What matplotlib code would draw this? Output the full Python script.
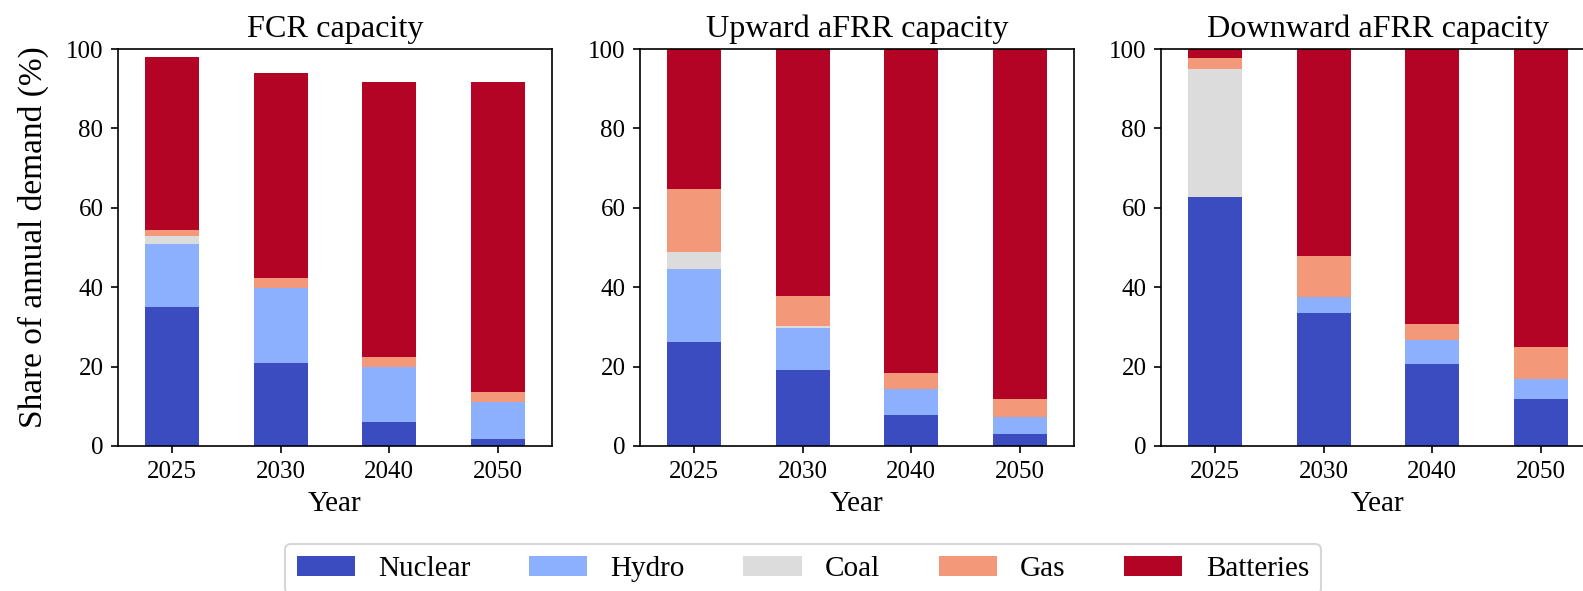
import numpy as np
import matplotlib
matplotlib.use("Agg")
import matplotlib.pyplot as plt

plt.rcParams['font.family'] = ['Liberation Serif', 'DejaVu Serif']
plt.rcParams['font.size'] = 12

years = ['2025', '2030', '2040', '2050']
techs = ['Nuclear', 'Hydro', 'Coal', 'Gas', 'Batteries']

# share of annual demand (%) per technology, one value per year
fcr = {
    'Nuclear':   [35.1, 21.0, 6.0, 1.7],
    'Hydro':     [15.9, 18.7, 13.8, 9.5],
    'Coal':      [1.8, 0.2, 0.0, 0.0],
    'Gas':       [1.5, 2.4, 2.5, 2.4],
    'Batteries': [43.7, 51.6, 69.4, 78.1],
}
afrr_up = {
    'Nuclear':   [26.2, 19.2, 7.8, 3.1],
    'Hydro':     [18.3, 10.4, 6.6, 4.3],
    'Coal':      [4.4, 0.7, 0.0, 0.0],
    'Gas':       [15.8, 7.4, 4.0, 4.5],
    'Batteries': [35.3, 62.3, 81.6, 88.1],
}
afrr_down = {
    'Nuclear':   [62.8, 33.4, 20.6, 11.9],
    'Hydro':     [0.0, 4.2, 6.2, 4.9],
    'Coal':      [32.2, 0.0, 0.0, 0.0],
    'Gas':       [2.8, 10.2, 4.0, 8.2],
    'Batteries': [2.2, 52.2, 69.2, 75.0],
}

panels = [('FCR capacity', fcr),
          ('Upward aFRR capacity', afrr_up),
          ('Downward aFRR capacity', afrr_down)]

colors = plt.cm.coolwarm(np.linspace(0, 1, len(techs)))

W, H, DPI = 1583, 591, 150
fig = plt.figure(figsize=(W / DPI, H / DPI), dpi=DPI)

# axes boxes in pixels
lefts = [118, 640, 1161]
ax_w, ax_top, ax_bot = 434, 49, 446

x = np.arange(len(years))
for i, (title, data) in enumerate(panels):
    ax = fig.add_axes([lefts[i] / W, 1 - ax_bot / H, ax_w / W, (ax_bot - ax_top) / H])
    bottom = np.zeros(len(years))
    for tech, c in zip(techs, colors):
        vals = np.array(data[tech])
        ax.bar(x, vals, 0.5, bottom=bottom, color=c, label=tech)
        bottom += vals
    ax.set_xlim(-0.5, len(years) - 0.5)
    ax.set_ylim(0, 100)
    ax.set_xticks(x)
    ax.set_xticklabels(years)
    ax.set_title(title, fontsize=15.5)
    ax.set_xlabel('Year', fontsize=14)
    if i == 0:
        ax.set_ylabel('Share of annual demand (%)', fontsize=16)
        ax.yaxis.set_label_coords(-0.16, 0.527)
        handles, labels = ax.get_legend_handles_labels()

fig.legend(handles, labels, loc='upper left', ncol=5,
           bbox_to_anchor=(285 / W, 1 - 544 / H), fontsize=14,
           borderaxespad=0)

fig.savefig('out.png', dpi=DPI)
